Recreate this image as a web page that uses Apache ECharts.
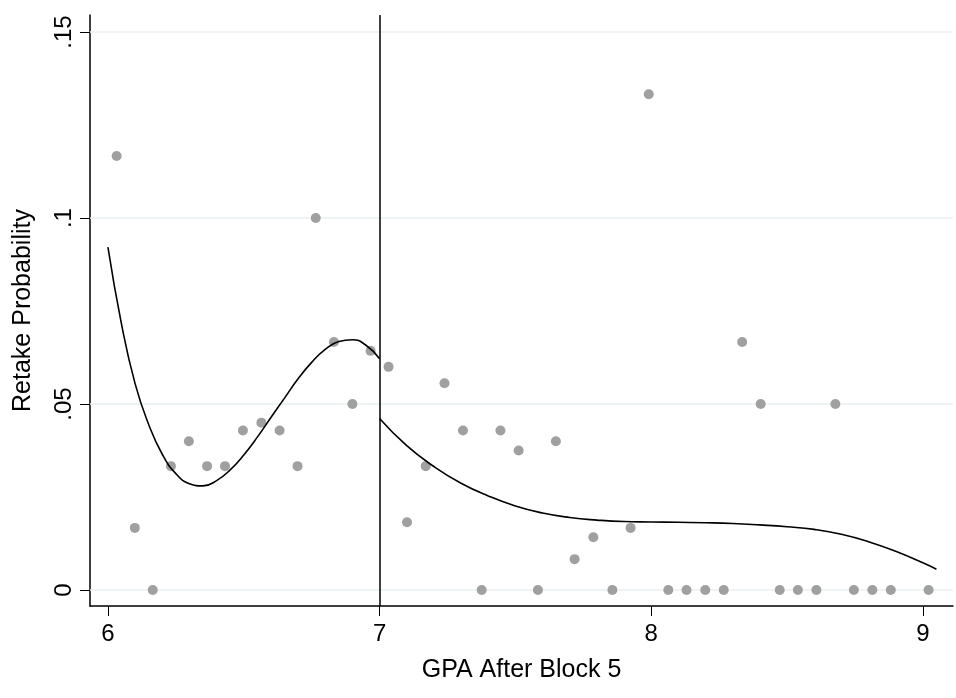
<!DOCTYPE html>
<html>
<head>
<meta charset="utf-8">
<script src="https://cdn.jsdelivr.net/npm/echarts@6/dist/echarts.min.js"></script>
<style>
  html, body { margin: 0; padding: 0; background: #fff; }
  #chart { width: 956px; height: 698px; }
</style>
</head>
<body>
<div id="chart"></div>
<script>
// binned scatter (GPA, retake share)
const gpaBins = [6.032, 6.099, 6.165, 6.232, 6.298, 6.365, 6.431, 6.497, 6.565, 6.632,
  6.698, 6.765, 6.832, 6.900, 6.967, 7.033, 7.101, 7.170, 7.239, 7.307,
  7.376, 7.445, 7.512, 7.583, 7.649, 7.718, 7.787, 7.857, 7.924, 7.991,
  8.063, 8.130, 8.199, 8.267, 8.335, 8.403, 8.473, 8.540, 8.608, 8.678,
  8.746, 8.814, 8.882, 9.021];
const retakeShare = [0.1167, 0.0167, 0, 0.0333, 0.040, 0.0333, 0.0333, 0.0429, 0.045, 0.0429,
  0.0333, 0.100, 0.0667, 0.050, 0.0643, 0.060, 0.0182, 0.0333, 0.0556, 0.0429,
  0, 0.0429, 0.0375, 0, 0.040, 0.0083, 0.0142, 0, 0.0167, 0.1333,
  0, 0, 0, 0, 0.0667, 0.050, 0, 0, 0, 0.050,
  0, 0, 0, 0];

// fitted curve, left of cutoff
const fitLeftX = [6.00, 6.05, 6.10, 6.15, 6.20, 6.25, 6.30, 6.35, 6.40, 6.45, 6.50,
  6.55, 6.60, 6.65, 6.70, 6.75, 6.80, 6.85, 6.90, 6.95, 7.00];
const fitLeftY = [0.0922, 0.0715, 0.0555, 0.0445, 0.0365, 0.0313, 0.0286, 0.0280, 0.0294, 0.0323, 0.0363,
  0.0411, 0.0464, 0.0516, 0.0568, 0.0612, 0.0647, 0.0668, 0.0673, 0.0658, 0.0622];

// fitted curve, right of cutoff
const fitRightX = [7.00, 7.10, 7.20, 7.30, 7.40, 7.50, 7.60, 7.70, 7.80, 7.90, 8.00,
  8.10, 8.20, 8.30, 8.40, 8.50, 8.60, 8.70, 8.80, 8.90, 9.00, 9.05];
const fitRightY = [0.0461, 0.0388, 0.0332, 0.0287, 0.0253, 0.0226, 0.0207, 0.0195, 0.0188, 0.0184, 0.0183,
  0.0182, 0.0181, 0.0179, 0.0175, 0.0170, 0.0163, 0.0150, 0.0130, 0.0104, 0.0073, 0.0056];

const cutoff = 7;
const xTicks = [6, 7, 8, 9];
const yTicks = [0, 0.05, 0.1, 0.15];
const yTickLabels = ['0', '.05', '.1', '.15'];

const zip = (xs, ys) => xs.map((x, i) => [x, ys[i]]);

const chart = echarts.init(document.getElementById('chart'));
const font = 'Liberation Sans, Arial, sans-serif';

chart.setOption({
  animation: false,
  backgroundColor: '#fff',
  textStyle: { fontFamily: font },
  grid: { left: 90, top: 15, right: 3, bottom: 92 },
  xAxis: {
    type: 'value',
    min: 5.934,
    max: 9.111,
    name: 'GPA After Block 5',
    nameLocation: 'middle',
    nameGap: 52,
    nameTextStyle: { fontSize: 25, color: '#000', fontFamily: font },
    axisLine: { onZero: false, lineStyle: { color: '#000', width: 1.5 } },
    axisTick: { customValues: xTicks, length: 10, lineStyle: { color: '#000', width: 1 } },
    axisLabel: { customValues: xTicks, fontSize: 24, color: '#000', margin: 16, fontFamily: font },
    splitLine: { show: false }
  },
  yAxis: {
    type: 'value',
    min: -0.0043,
    max: 0.1546,
    name: 'Retake Probability',
    nameLocation: 'middle',
    nameGap: 54,
    nameRotate: 90,
    nameTextStyle: { fontSize: 25, color: '#000', fontFamily: font },
    axisLine: { show: true, onZero: false, lineStyle: { color: '#000', width: 1.5 } },
    axisTick: { show: true, customValues: yTicks, length: 10, lineStyle: { color: '#000', width: 1 } },
    axisLabel: {
      customValues: yTicks,
      rotate: 90,
      fontSize: 24,
      color: '#000',
      margin: 14,
      fontFamily: font,
      formatter: (v) => {
        const i = yTicks.findIndex(t => Math.abs(t - v) < 1e-9);
        return i >= 0 ? yTickLabels[i] : '';
      }
    },
    splitLine: { show: false }
  },
  series: [
    {
      // gridlines, kept under the marks
      type: 'line',
      data: [],
      z: 1,
      silent: true,
      markLine: {
        z: 1,
        silent: true,
        symbol: 'none',
        label: { show: false },
        lineStyle: { color: '#e8f1f3', width: 1.5, type: 'solid' },
        data: yTicks.map(v => ({ yAxis: v }))
      }
    },
    {
      type: 'scatter',
      data: zip(gpaBins, retakeShare),
      symbolSize: 10,
      z: 3,
      itemStyle: { color: '#a0a0a0', opacity: 1 }
    },
    {
      type: 'line',
      data: zip(fitLeftX, fitLeftY),
      smooth: true,
      showSymbol: false,
      z: 4,
      lineStyle: { color: '#000', width: 1.6 }
    },
    {
      type: 'line',
      data: zip(fitRightX, fitRightY),
      smooth: true,
      showSymbol: false,
      z: 4,
      lineStyle: { color: '#000', width: 1.6 },
      markLine: {
        silent: true,
        symbol: 'none',
        label: { show: false },
        lineStyle: { color: '#000', width: 1.5, type: 'solid' },
        data: [{ xAxis: cutoff }]
      }
    }
  ]
});
</script>
</body>
</html>
